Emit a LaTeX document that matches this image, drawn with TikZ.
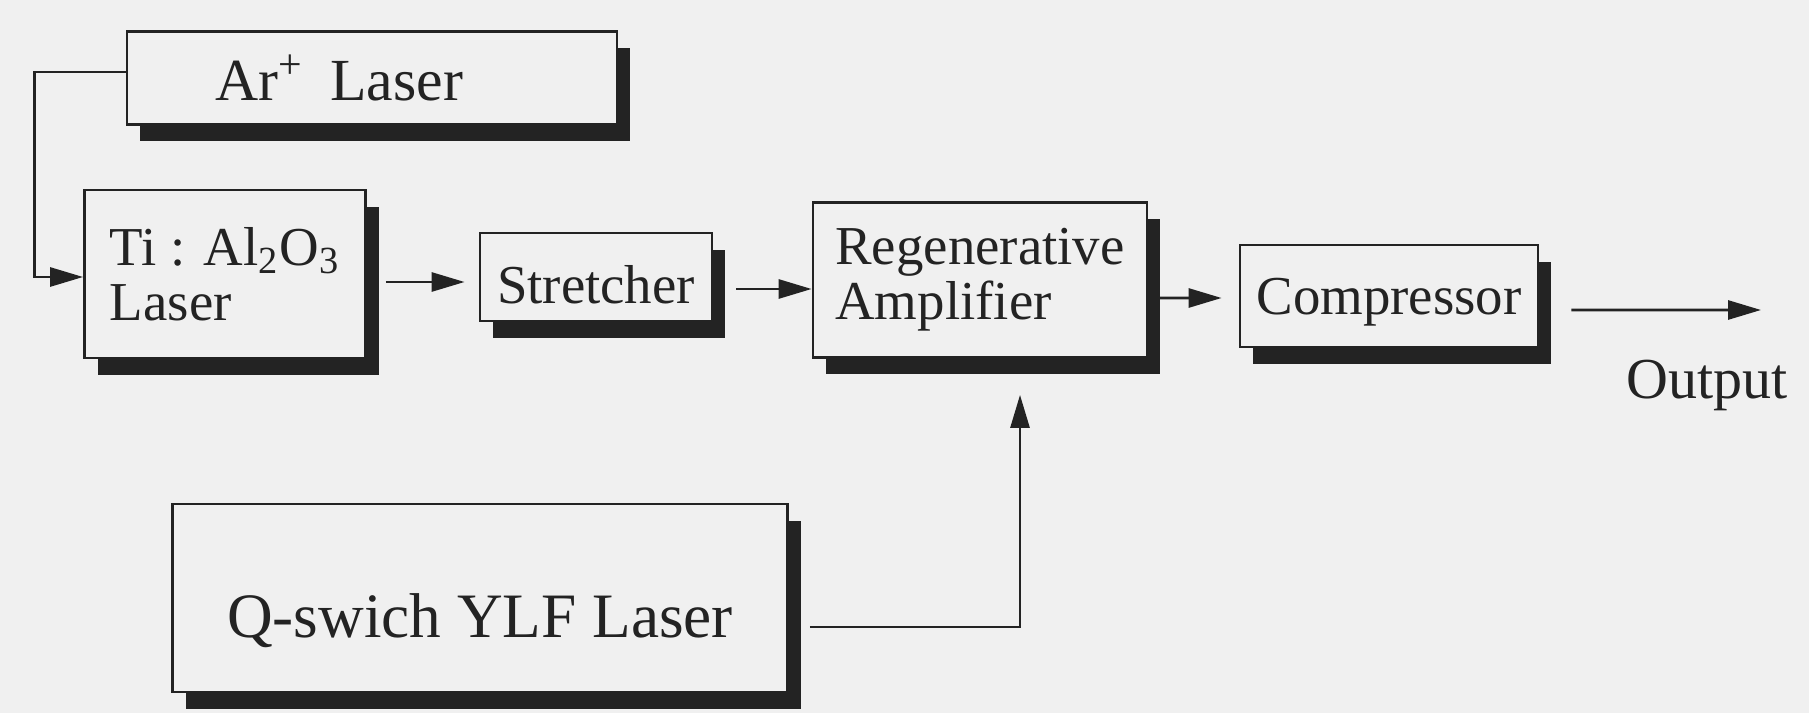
\documentclass[tikz,border=0pt]{standalone}
\usepackage{fontspec}
\setmainfont{Liberation Serif}
\usetikzlibrary{positioning}
\usetikzlibrary{arrows.meta}
\usetikzlibrary{shadows}
\definecolor{paper}{RGB}{240,240,240}
\definecolor{ink}{RGB}{35,35,35}
\tikzset{blk/.style = {draw=ink, fill=paper, line width=0.8pt, inner sep=0pt,
                       drop shadow={shadow xshift=1.3mm, shadow yshift=-1.7mm,
                                    fill=ink, opacity=1}}}
\tikzset{>={Triangle[length=3.3mm, width=1.9mm]}}
\tikzset{wire/.style = {->, draw=ink, line width=0.8pt}}

\begin{document}
\begin{tikzpicture}[x=0.1mm, y=-0.1mm, text=ink,
                    font=\fontsize{15.6}{15.6}\selectfont]
          \fill[paper] (0,0) rectangle (1809,713);
          \useasboundingbox (0,0) rectangle (1809,713);
          % boxes
          \node[blk, minimum height=9.3mm, text width=31.4mm, inner xsep=8.8mm,
                align=left, font=\fontsize{17}{17}\selectfont]
            (ar) at (372,78) {Ar\textsuperscript{+}\hspace{0.45em}Laser};
          \node[blk, minimum width=28.1mm, minimum height=16.8mm, align=left]
            (ti) at (225,274) {Ti : Al\textsubscript{2}O\textsubscript{3}\\Laser};
          \node[blk, minimum width=23.2mm, minimum height=8.8mm,
                text height=5.3mm, text depth=0pt]
            (st) at (596,277) {Stretcher};
          \node[blk, minimum width=33.4mm, minimum height=15.5mm, align=left]
            (reg) at (980,280) {Regenerative\\Amplifier};
          \node[blk, minimum width=29.8mm, minimum height=10.2mm,
                text height=3.8mm, text depth=0pt]
            (comp) at (1389,296) {Compressor};
          \node[blk, minimum width=61.5mm, minimum height=18.8mm,
                text height=7.8mm, text depth=0pt, font=\fontsize{18}{18}\selectfont]
            (qs) at (480,598) {Q-swich YLF Laser};
          \coordinate (outp) at (1761,310);
          \node[anchor=base, font=\fontsize{16.5}{16.5}\selectfont]
            (outlbl) at (1707,398) {Output};
          % connectors
          \draw[wire] ([yshift=0.6mm]ar.west) -- ++(-91,0) |- ([yshift=-0.3mm]ti.west);
          \draw[wire, shorten <=1.9mm, shorten >=1.4mm]
            ([yshift=-0.8mm]ti.east) -- ([yshift=-0.5mm]st.west);
          \draw[wire, shorten <=2.3mm]
            ([yshift=-1.2mm]st.east) -- ([yshift=-0.9mm]reg.west);
          \draw[wire, shorten <=0.6mm, shorten >=1.7mm]
            ([yshift=-1.8mm]reg.east) -- ([yshift=-0.2mm]comp.west);
          \draw[wire, shorten <=3.2mm] ([yshift=-1.4mm]comp.east) -- (outp);
          \draw[wire, shorten <=2.1mm, shorten >=3.6mm]
            ([yshift=-2.9mm]qs.east) -| ([xshift=4mm]reg.south);
\end{tikzpicture}
\end{document}
